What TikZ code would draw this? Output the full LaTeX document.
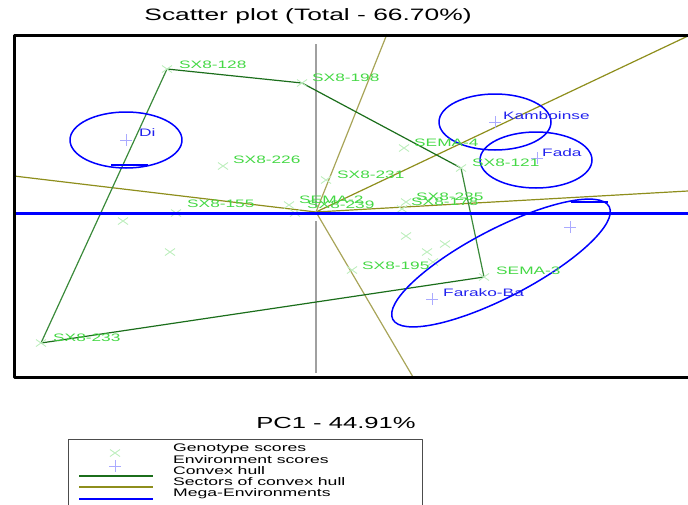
\documentclass[tikz,border=0pt]{standalone}
\usepackage{fontspec}
\setmainfont{Liberation Sans}[FakeStretch=1.6]
\usepackage{xcolor}
\usepackage{tikz}

\definecolor{genpale}{HTML}{BDEEBD}
\definecolor{genlabel}{HTML}{44D844}
\definecolor{hullgreen}{HTML}{1B6E1B}
\definecolor{hullsteep}{HTML}{3A8A3A}
\definecolor{sectorolive}{HTML}{8E8E1C}
\definecolor{sectorsteep}{HTML}{A8A458}
\definecolor{envpale}{HTML}{AAAAFF}
\definecolor{envlabel}{HTML}{2222EE}
\definecolor{axisgray}{HTML}{A0A0A0}

\newcommand{\labfont}{\fontsize{10.8}{12}\selectfont}
\newcommand{\legfont}{\fontsize{11}{12}\selectfont}

\tikzset{
	genmark/.pic={\draw[genpale, line width=0.9] (-5,-3.5) -- (5,3.5) (-5,3.5) -- (5,-3.5);},
	envmark/.pic={\draw[envpale, line width=0.9] (-6,0) -- (6,0) (0,-6) -- (0,6);},
	genlab/.style={text=genlabel, anchor=west, inner sep=0pt, font=\labfont},
	envlab/.style={text=envlabel, anchor=west, inner sep=0pt, font=\labfont},
	hull/.style={hullgreen, line width=1.2},
	sector/.style={sectorolive, line width=1.2},
	mega/.style={blue, line width=1.5},
	legtext/.style={anchor=west, inner sep=0pt, font=\legfont}
}

\begin{document}
\begin{tikzpicture}[x=1pt, y=-1pt, line join=round]
	\useasboundingbox (0,0) rectangle (688,504);
	\node[font=\fontsize{16.5}{18}\selectfont] (title) at (308,16) {Scatter plot (Total - 66.70\%)};
	\node[font=\fontsize{16}{18}\selectfont] (pcone) at (336,423) {PC1 - 44.91\%};

	\coordinate (o) at (316,212);
	\coordinate (g128) at (167,69);
	\coordinate (g198) at (302,83);
	\coordinate (g226) at (223,166);
	\coordinate (g231) at (326,180);
	\coordinate (gS4) at (404,148);
	\coordinate (g121) at (461,168);
	\coordinate (gS2) at (289,205);
	\coordinate (g239) at (295,213);
	\coordinate (g155) at (176,213);
	\coordinate (g235) at (406,202);
	\coordinate (g178) at (402,209);
	\coordinate (g195) at (352,270);
	\coordinate (gS3) at (484,277);
	\coordinate (g233) at (41,343);
	\coordinate (eDi) at (126,140);
	\coordinate (eKam) at (495,122);
	\coordinate (eFada) at (537,158);
	\coordinate (eFar) at (432,299);
	\coordinate (eX) at (570,227);

	\draw[axisgray, line width=1.6] (316,44) -- (316,207) (316,221) -- (316,373);

	\draw[sector] (o) -- (14,176) (o) -- (688,36) (o) -- (688,191);
	\draw[sector, sectorsteep] (o) -- (387,34) (o) -- (413,377);
	\draw[hull] (g128) -- (g198) -- (g121);
	\draw[hull, hullsteep] (g121) -- (gS3);
	\draw[hull] (gS3) -- (g233);
	\draw[hull, hullsteep] (g233) -- (g128);

	\foreach \p in {g128,g198,g226,g231,gS4,g121,gS2,g239,g155,g235,g178,g195,gS3,g233}
		\pic at (\p) {genmark};
	\foreach \x/\y in {123/221, 170/252, 406/236, 427/252, 445/244, 433/262}
		\pic at (\x,\y) {genmark};
	\foreach \p in {eDi,eKam,eFada,eFar,eX}
		\pic at (\p) {envmark};

	\draw[mega] (eDi) ellipse [x radius=56, y radius=28];
	\draw[mega] (eKam) ellipse [x radius=56, y radius=28];
	\draw[mega] (536,160) ellipse [x radius=56, y radius=28];
	\draw[mega, rotate around={27.5:(501,263)}] (501,263) ellipse [x radius=122, y radius=34];
	\draw[blue, line width=1.2] (111,165) -- (148,165) (571,202) -- (608,202);

	\draw[blue, line width=3] (14,213.5) -- (688,213.5);
	\draw[line width=3] (688,35) -- (14,35) -- (14,377) -- (688,377);

	\node[genlab] (l128) at (179,65) {SX8-128};
	\node[genlab] (l198) at (312,78) {SX8-198};
	\node[genlab] (l226) at (233,160) {SX8-226};
	\node[genlab] (l231) at (337,175) {SX8-231};
	\node[genlab] (lS4) at (414,143) {SEMA-4};
	\node[genlab] (l121) at (472,163) {SX8-121};
	\node[genlab] (lS2) at (299,200) {SEMA-2};
	\node[genlab] (l239) at (307,205) {SX8-239};
	\node[genlab] (l155) at (187,204) {SX8-155};
	\node[genlab] (l235) at (416,197) {SX8-235};
	\node[genlab] (l178) at (411,202) {SX8-178};
	\node[genlab] (l195) at (362,266) {SX8-195};
	\node[genlab] (lS3) at (496,271) {SEMA-3};
	\node[genlab] (l233) at (53,338) {SX8-233};
	\node[envlab] (lDi) at (139,133) {Di};
	\node[envlab] (lKam) at (503,116) {Kamboinse};
	\node[envlab] (lFada) at (542,153) {Fada};
	\node[envlab] (lFar) at (443,293) {Farako-Ba};

	\draw[black!70, line width=0.8] (68,439) rectangle (422,512);
	\pic at (115,453) {genmark};
	\pic at (115,466) {envmark};
	\draw[hullgreen, line width=1.2] (79,476) -- (153,476);
	\draw[sectorolive, line width=1.2] (79,487) -- (153,487);
	\draw[blue, line width=1.2] (79,499) -- (153,499);
	\node[legtext] (t1) at (173,449) {Genotype scores};
	\node[legtext] (t2) at (173,460) {Environment scores};
	\node[legtext] (t3) at (173,471) {Convex hull};
	\node[legtext] (t4) at (173,482) {Sectors of convex hull};
	\node[legtext] (t5) at (173,494) {Mega-Environments};
\end{tikzpicture}
\end{document}
